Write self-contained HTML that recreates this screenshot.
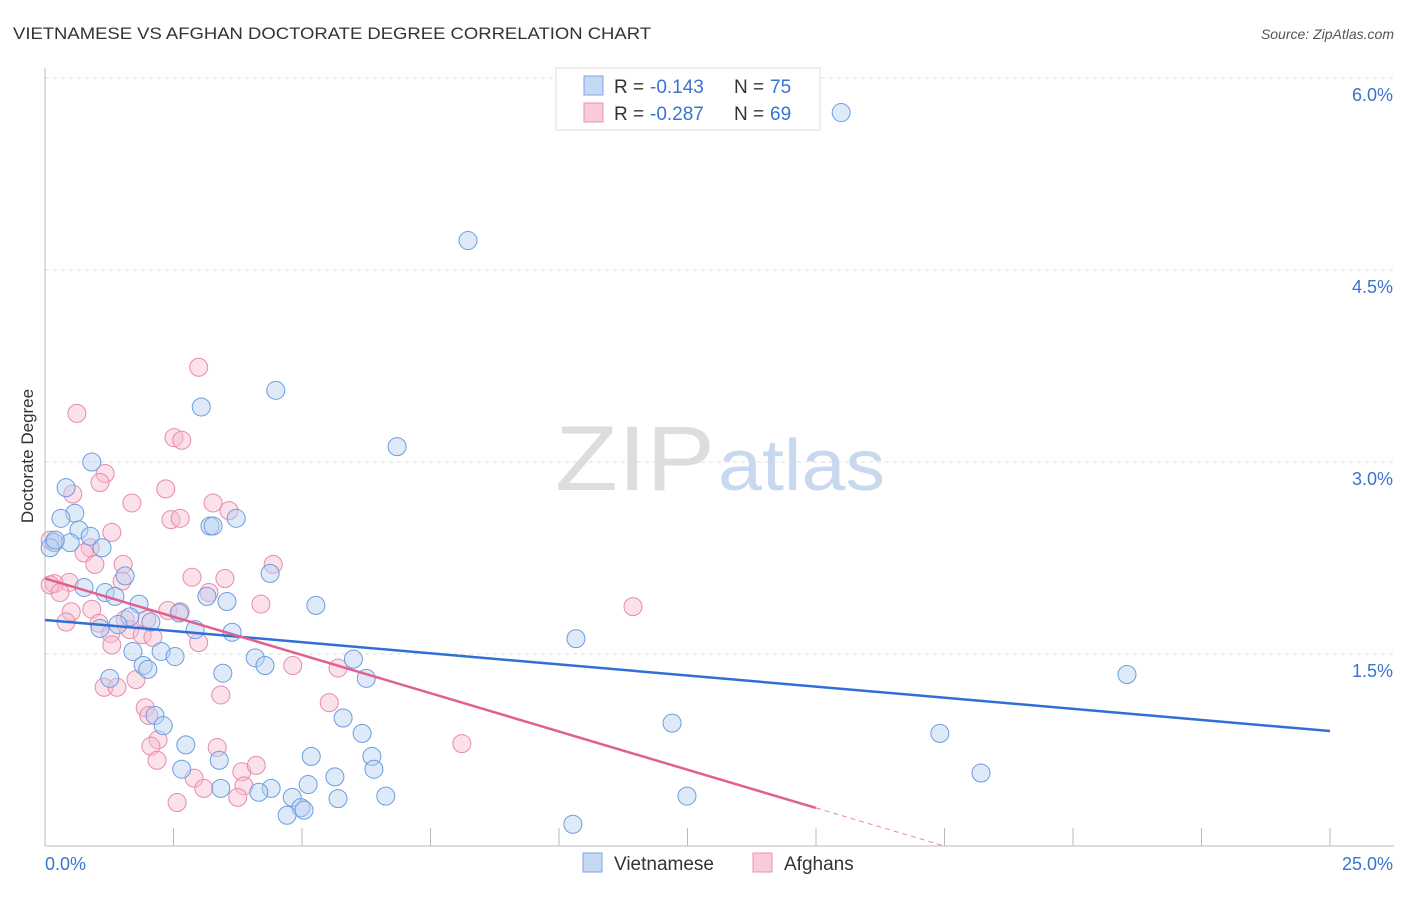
<!DOCTYPE html>
<html><head><meta charset="utf-8"><style>
body{margin:0;background:#fff;font-family:"Liberation Sans",sans-serif;}
svg text{font-family:"Liberation Sans",sans-serif;}
</style></head><body>
<svg id="chart" width="1406" height="892" xmlns="http://www.w3.org/2000/svg">
<text x="13" y="39" font-size="17" fill="#333" textLength="638" lengthAdjust="spacingAndGlyphs">VIETNAMESE VS AFGHAN DOCTORATE DEGREE CORRELATION CHART</text>
<text x="1394" y="39" font-size="14" fill="#555" text-anchor="end" font-style="italic">Source: ZipAtlas.com</text>
<text x="555" y="490" font-size="92" fill="#ddd" font-family="Liberation Serif" textLength="160" lengthAdjust="spacingAndGlyphs">ZIP</text>
<text x="718" y="490" font-size="72" fill="#c8d8ee" textLength="167" lengthAdjust="spacingAndGlyphs">atlas</text>
<text transform="translate(33,456) rotate(-90)" font-size="17" fill="#333" text-anchor="middle">Doctorate Degree</text>
<g id="grid"></g><g id="axes"></g><g id="marks"></g>
<g>
<rect x="556" y="68" width="264" height="62" fill="#fff" stroke="#ddd"/>
<rect x="584" y="76" width="19" height="19" fill="#c5d9f3" stroke="#7aa6e0"/>
<rect x="584" y="103" width="19" height="19" fill="#f9cadb" stroke="#eb93b2"/>
<text x="614" y="93" font-size="19" fill="#333">R =</text>
<text x="650" y="93" font-size="19" fill="#3a73d0">-0.143</text>
<text x="734" y="93" font-size="19" fill="#333">N =</text>
<text x="770" y="93" font-size="19" fill="#3a73d0">75</text>
<text x="614" y="120" font-size="19" fill="#333">R =</text>
<text x="650" y="120" font-size="19" fill="#3a73d0">-0.287</text>
<text x="734" y="120" font-size="19" fill="#333">N =</text>
<text x="770" y="120" font-size="19" fill="#3a73d0">69</text>
</g>
<g>
<rect x="583" y="853" width="19" height="19" fill="#c5d9f3" stroke="#7aa6e0"/>
<text x="614" y="870" font-size="19" fill="#333">Vietnamese</text>
<rect x="753" y="853" width="19" height="19" fill="#f9cadb" stroke="#eb93b2"/>
<text x="784" y="870" font-size="19" fill="#333">Afghans</text>
</g>
</svg>
<script>
const yTicks=[1.5,3.0,4.5,6.0];
const xTickLabels=["0.0%","25.0%"];
const blueX=[15.49,8.23,4.49,3.04,6.85,0.91,0.41,0.58,0.31,3.72,3.21,3.27,0.66,0.88,0.18,0.49,1.11,4.38,1.56,0.76,1.17,1.36,3.15,3.54,5.27,1.83,2.61,1.65,2.06,1.42,1.07,2.92,3.64,10.33,1.71,2.26,2.53,4.09,6.0,1.91,4.28,2.0,3.46,21.05,6.25,1.26,5.8,2.14,2.3,12.2,6.17,17.41,2.74,5.18,6.36,3.39,2.66,6.4,5.64,18.21,5.12,3.42,4.4,4.16,6.63,12.49,4.81,5.7,4.98,5.04,4.71,10.27,0.1,0.2];
const blueY=[5.73,4.73,3.56,3.43,3.12,3.0,2.8,2.6,2.56,2.56,2.5,2.5,2.47,2.42,2.37,2.37,2.33,2.13,2.11,2.02,1.98,1.95,1.95,1.91,1.88,1.89,1.82,1.79,1.75,1.73,1.7,1.69,1.67,1.62,1.52,1.52,1.48,1.47,1.46,1.41,1.41,1.38,1.35,1.34,1.31,1.31,1.0,1.02,0.94,0.96,0.88,0.88,0.79,0.7,0.7,0.67,0.6,0.6,0.54,0.57,0.48,0.45,0.45,0.42,0.39,0.39,0.38,0.37,0.3,0.28,0.24,0.17,2.33,2.39];
const pinkX=[2.99,0.62,2.51,2.66,1.17,1.07,0.54,2.35,1.69,3.27,3.58,2.45,2.63,1.3,0.88,0.76,0.1,1.52,4.44,0.97,2.86,3.5,1.5,0.47,0.18,0.1,3.19,0.29,4.2,11.44,0.91,0.51,2.39,2.63,1.56,0.41,1.98,1.05,1.65,1.28,1.89,2.1,2.99,1.3,4.82,5.7,1.77,1.15,1.4,3.42,5.53,1.95,2.02,2.2,2.06,8.11,3.35,2.18,3.83,4.11,2.9,3.09,3.87,3.75,2.57];
const pinkY=[3.74,3.38,3.19,3.17,2.91,2.84,2.75,2.79,2.68,2.68,2.62,2.55,2.56,2.45,2.33,2.29,2.39,2.2,2.2,2.2,2.1,2.09,2.07,2.06,2.05,2.04,1.98,1.98,1.89,1.87,1.85,1.83,1.84,1.83,1.77,1.75,1.77,1.74,1.69,1.66,1.65,1.63,1.59,1.57,1.41,1.39,1.3,1.24,1.24,1.18,1.12,1.08,1.02,0.83,0.78,0.8,0.77,0.67,0.58,0.63,0.53,0.45,0.47,0.38,0.34];
const blueTrend=[[0,1.766],[25,0.898]];
const pinkTrend=[[0,2.09],[15,0.297]];
const pinkDash=[[15,0.297],[17.5,0]];
const X=v=>45+v*51.4, Y=v=>846-v*128;
const NS="http://www.w3.org/2000/svg";
function mk(tag,attrs,parent){const e=document.createElementNS(NS,tag);for(const k in attrs)e.setAttribute(k,attrs[k]);document.getElementById(parent).appendChild(e);return e;}
yTicks.forEach(t=>{
 const l=mk('line',{x1:45,x2:1394,y1:Y(t),y2:Y(t),stroke:'#ddd','stroke-dasharray':'4,4'},'grid');
 
 
 const tx=mk('text',{x:1393,y:Y(t)+23,'font-size':18,fill:'#3a73d0','text-anchor':'end'},'axes');
 tx.textContent=t.toFixed(1)+'%';
 
 
});
const ya=mk('line',{x1:45,x2:45,y1:68,y2:846,stroke:'#bbb'},'axes');


const xa=mk('line',{x1:45,x2:1394,y1:846,y2:846,stroke:'#bbb'},'axes');


for(let i=1;i<=10;i++){
 const t=mk('line',{x1:X(i*2.5),x2:X(i*2.5),y1:828,y2:846,stroke:'#bbb'},'axes');
 
 
}
[[0,45,'start'],[25,1393,'end']].forEach((a,i)=>{
 const tx=mk('text',{x:a[1],y:870,'font-size':18,fill:'#3a73d0','text-anchor':a[2]},'axes');
 tx.textContent=xTickLabels[i];
 
 
});
function pts(xs,ys,fill,stroke,name){
 xs.forEach((x,i)=>{
  const c=mk('circle',{cx:X(x),cy:Y(ys[i]),r:9,fill:fill,'fill-opacity':0.45,stroke:stroke,'stroke-width':1},'marks');
  
  
 });
}
pts(pinkX,pinkY,'#f7bcd0','#e88aac','afghan-point');
pts(blueX,blueY,'#b7d0f1','#6b9de0','vietnamese-point');
function line(p,col,name,dash){
 const l=mk('line',{x1:X(p[0][0]),y1:Y(p[0][1]),x2:X(p[1][0]),y2:Y(p[1][1]),stroke:col,'stroke-width':dash?1:2.5},'marks');
 if(dash)l.setAttribute('stroke-dasharray','5,4');
 
 
}
line(blueTrend,'#2f6fd6','vietnamese-trendline');
line(pinkTrend,'#e0608f','afghan-trendline');
line(pinkDash,'#e88aac','afghan-trendline-extension',true);
</script>
</body></html>
